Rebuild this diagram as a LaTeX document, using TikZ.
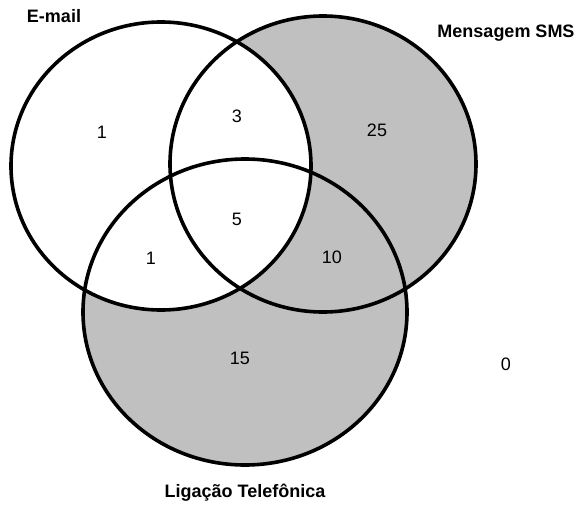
\documentclass[tikz,border=0pt]{standalone}
\usepackage{fontspec}
\setmainfont{Liberation Sans}
\definecolor{vgray}{HTML}{C0C0C0}
\begin{document}
\begin{tikzpicture}[x=1pt,y=-1pt,
  outline/.style={draw=black,line width=3.6pt},
  setlabel/.style={font=\fontsize{18}{21}\selectfont\bfseries,inner sep=0pt},
  count/.style={font=\fontsize{18}{21}\selectfont,inner sep=0pt}]
\useasboundingbox (0,0) rectangle (576,509);
% shaded regions: (SMS or Ligacao) minus E-mail
\fill[vgray] (323,164) ellipse [x radius=153, y radius=148];
\fill[vgray] (245,312) ellipse [x radius=162, y radius=153];
\fill[white] (161,166) ellipse [x radius=150, y radius=144];
% outlines
\draw[outline] (161,166) ellipse [x radius=150, y radius=144];
\draw[outline] (323,164) ellipse [x radius=153, y radius=148];
\draw[outline] (245,312) ellipse [x radius=162, y radius=153];
% set labels
\node[setlabel] (lE) at (54,16) {E-mail};
\node[setlabel] (lS) at (506,33) {Mensagem SMS};
\node[setlabel] (lL) at (245,493) {Ligação Telefônica};
% counts
\node[count] (nE) at (102,132) {1};
\node[count] (nES) at (237,116) {3};
\node[count] (nS) at (377,130) {25};
\node[count] (nESL) at (237,219) {5};
\node[count] (nEL) at (151,258) {1};
\node[count] (nSL) at (332,257) {10};
\node[count] (nL) at (240,358) {15};
\node[count] (nO) at (506,364) {0};
\end{tikzpicture}
\end{document}
